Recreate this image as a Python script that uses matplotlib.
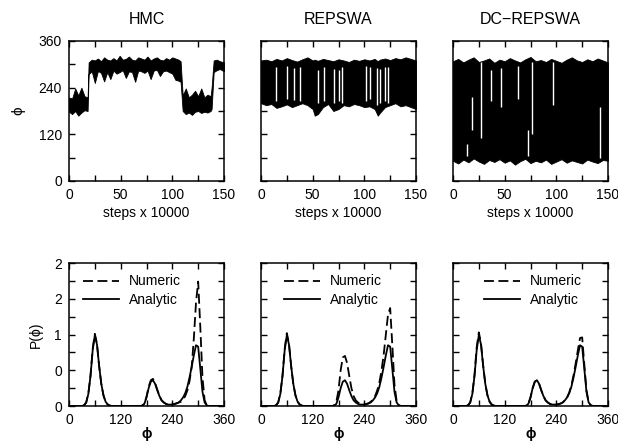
import numpy as np
import matplotlib
matplotlib.use("Agg")
import matplotlib.pyplot as plt
from matplotlib.ticker import MultipleLocator, FixedLocator, FixedFormatter

plt.rcParams['font.family'] = ['Liberation Sans', 'DejaVu Sans']

titles = ['HMC', 'REPSWA', 'DC\u2212REPSWA']

# --- time series, read as lower/upper envelope of the dense trace ---
hmc_x = [0, 3, 6, 9, 12, 15, 18, 19, 22, 25, 28, 31, 34, 37, 40, 43, 46, 49, 52,
         55, 58, 61, 64, 67, 70, 73, 76, 79, 82, 85, 88, 91, 94, 97, 100, 103,
         106, 108, 110, 113, 116, 119, 122, 125, 128, 131, 134, 137, 138, 140,
         143, 146, 150]
hmc_lo = [178, 172, 180, 168, 176, 182, 180, 275, 282, 252, 283, 278, 256, 280,
          262, 284, 276, 280, 285, 265, 282, 280, 255, 284, 282, 278, 284, 262,
          284, 286, 270, 282, 284, 280, 276, 260, 258, 255, 180, 172, 176, 170,
          178, 180, 175, 178, 176, 180, 185, 280, 285, 288, 282]
hmc_hi = [215, 212, 238, 220, 240, 218, 215, 305, 312, 310, 315, 308, 318, 312,
          310, 316, 310, 322, 312, 314, 320, 312, 310, 318, 315, 312, 320, 310,
          315, 318, 312, 310, 316, 312, 318, 315, 312, 308, 220, 238, 215, 222,
          232, 218, 238, 215, 222, 218, 240, 310, 312, 308, 305]

rep_x = [0, 5, 10, 15, 20, 25, 30, 35, 40, 45, 50, 52, 55, 60, 65, 70, 75, 80,
         85, 90, 95, 100, 105, 110, 113, 115, 120, 125, 130, 135, 140, 145, 150]
rep_lo = [200, 195, 198, 188, 192, 197, 190, 195, 200, 195, 185, 168, 172, 190,
          198, 180, 185, 195, 192, 198, 195, 190, 192, 185, 168, 175, 190, 195,
          200, 192, 195, 190, 185]
rep_hi = [310, 312, 308, 314, 310, 316, 311, 307, 313, 318, 310, 312, 309, 314,
          311, 308, 313, 310, 306, 312, 309, 313, 310, 314, 308, 312, 315, 311,
          316, 313, 318, 314, 310]
rep_gap_x = [14.5, 25, 32, 38, 55.5, 60.5, 71, 75, 78, 102, 105.5, 112, 115,
             120, 123]
rep_gap_lo = [205, 210, 208, 205, 200, 205, 200, 205, 200, 205, 210, 195, 200,
              205, 200]
rep_gap_hi = [292, 295, 290, 294, 285, 292, 288, 286, 292, 296, 292, 290, 288,
              292, 294]

dc_x = [0, 5, 10, 15, 20, 25, 30, 35, 40, 45, 50, 55, 60, 65, 70, 75, 80, 85,
        90, 95, 100, 105, 110, 115, 120, 125, 130, 135, 140, 145, 150]
dc_lo = [52, 45, 55, 48, 58, 50, 44, 54, 49, 56, 47, 53, 42, 51, 57, 46, 52, 48,
         55, 44, 50, 56, 47, 53, 49, 45, 55, 50, 46, 54, 52]
dc_hi = [308, 314, 305, 312, 318, 306, 310, 315, 304, 312, 308, 316, 310, 305,
         313, 319, 308, 311, 306, 314, 309, 304, 312, 318, 310, 306, 313, 308,
         315, 310, 305]
dc_gap_x = [13.5, 18.5, 27, 37, 46, 63, 73, 76, 97, 142]
dc_gap_lo = [65, 130, 110, 205, 190, 210, 65, 120, 195, 60]
dc_gap_hi = [95, 215, 305, 285, 290, 295, 130, 305, 305, 190]

# --- distributions P(phi) ---
phi = np.arange(0, 361, 5)
analytic = [0, 0, 0, 0, 0, 0, 0, 0.01, 0.05, 0.17, 0.42, 0.78, 0.99, 0.86,
            0.56, 0.31, 0.15, 0.06, 0.02, 0.005, 0, 0, 0, 0, 0, 0, 0, 0, 0, 0,
            0, 0, 0, 0, 0.005, 0.03, 0.12, 0.25, 0.34, 0.36, 0.31, 0.22, 0.14,
            0.08, 0.05, 0.03, 0.02, 0.02, 0.02, 0.025, 0.035, 0.05, 0.08, 0.12,
            0.18, 0.27, 0.40, 0.55, 0.71, 0.85, 0.83, 0.52, 0.20, 0.05, 0.01,
            0, 0, 0, 0, 0, 0, 0, 0]
num_hmc = [0, 0, 0, 0, 0, 0, 0, 0.01, 0.05, 0.18, 0.43, 0.80, 1.01, 0.87,
           0.56, 0.31, 0.15, 0.06, 0.02, 0.005, 0, 0, 0, 0, 0, 0, 0, 0, 0, 0,
           0, 0, 0, 0, 0.005, 0.03, 0.13, 0.27, 0.36, 0.38, 0.32, 0.23, 0.14,
           0.08, 0.05, 0.03, 0.02, 0.02, 0.025, 0.03, 0.04, 0.05, 0.06, 0.09,
           0.14, 0.22, 0.35, 0.55, 0.95, 1.45, 1.74, 1.10, 0.40, 0.08, 0.01,
           0, 0, 0, 0, 0, 0, 0, 0]
num_rep = [0, 0, 0, 0, 0, 0, 0, 0.01, 0.05, 0.18, 0.43, 0.80, 1.02, 0.87,
           0.56, 0.31, 0.15, 0.06, 0.02, 0.005, 0, 0, 0, 0, 0, 0, 0, 0, 0, 0,
           0, 0, 0, 0, 0.01, 0.06, 0.22, 0.50, 0.68, 0.70, 0.60, 0.42, 0.25,
           0.14, 0.08, 0.05, 0.03, 0.02, 0.02, 0.03, 0.04, 0.06, 0.09, 0.14,
           0.22, 0.33, 0.50, 0.72, 1.00, 1.28, 1.37, 0.85, 0.30, 0.07, 0.01,
           0, 0, 0, 0, 0, 0, 0, 0]
num_dc = [0, 0, 0, 0, 0, 0, 0, 0.01, 0.05, 0.18, 0.44, 0.82, 1.03, 0.88,
          0.57, 0.31, 0.15, 0.06, 0.02, 0.005, 0, 0, 0, 0, 0, 0, 0, 0, 0, 0,
          0, 0, 0, 0, 0.005, 0.03, 0.12, 0.25, 0.34, 0.36, 0.31, 0.22, 0.14,
          0.08, 0.05, 0.03, 0.02, 0.02, 0.02, 0.025, 0.035, 0.05, 0.08, 0.12,
          0.19, 0.29, 0.43, 0.60, 0.78, 0.95, 0.96, 0.58, 0.22, 0.05, 0.01,
          0, 0, 0, 0, 0, 0, 0, 0]
p_ticks = [0, 0.5, 1.0, 1.5, 2.0]
p_labels = ['0', '0', '1', '2', '2']

series = [
    (hmc_x, hmc_lo, hmc_hi, [], [], [], num_hmc),
    (rep_x, rep_lo, rep_hi, rep_gap_x, rep_gap_lo, rep_gap_hi, num_rep),
    (dc_x, dc_lo, dc_hi, dc_gap_x, dc_gap_lo, dc_gap_hi, num_dc),
]
legend_x = [0.092, 0.148, 0.2]

W, H = 618, 444
fig = plt.figure(figsize=(W / 100, H / 100), dpi=100)
lefts = [69, 261, 453]


def style(ax):
    for s in ax.spines.values():
        s.set_linewidth(1.1)
    ax.tick_params(which='both', direction='in', top=True, right=True,
                   length=4, width=1, labelsize=10, pad=5)


for i, (tx, lo, hi, gx, glo, ghi, num) in enumerate(series):
    # top row: trace of phi
    ax = fig.add_axes([lefts[i] / W, 1 - 181 / H, 155 / W, 140 / H])
    ax.fill_between(tx, lo, hi, color='black', lw=0.6)
    if gx:
        ax.vlines(gx, glo, ghi, color='white', lw=1.0)
    ax.set_xlim(0, 150)
    ax.set_ylim(0, 360)
    ax.xaxis.set_major_locator(MultipleLocator(50))
    ax.xaxis.set_minor_locator(MultipleLocator(25))
    ax.yaxis.set_major_locator(MultipleLocator(120))
    ax.yaxis.set_minor_locator(MultipleLocator(60))
    style(ax)
    ax.set_title(titles[i], fontsize=11.5, pad=12)
    ax.set_xlabel('steps x 10000', fontsize=10, labelpad=3)
    if i == 0:
        ax.set_ylabel('\u03d5', fontsize=11)
        ax.yaxis.set_label_coords(-0.28, 0.5)
    else:
        ax.tick_params(labelleft=False)

    # bottom row: distributions
    bx = fig.add_axes([lefts[i] / W, 1 - 406 / H, 155 / W, 143 / H])
    bx.plot(phi, num, color='black', lw=1.3, dashes=(5.5, 2.5), label='Numeric')
    bx.plot(phi, analytic, color='black', lw=1.3, label='Analytic')
    bx.set_xlim(0, 360)
    bx.set_ylim(0, 2.0)
    bx.xaxis.set_major_locator(MultipleLocator(120))
    bx.xaxis.set_minor_locator(MultipleLocator(60))
    bx.yaxis.set_major_locator(FixedLocator(p_ticks))
    bx.yaxis.set_major_formatter(FixedFormatter(p_labels))
    bx.yaxis.set_minor_locator(MultipleLocator(0.25))
    style(bx)
    bx.set_xlabel('\u03d5', fontsize=10, fontweight='bold', labelpad=0)
    if i == 0:
        bx.set_ylabel('P(\u03d5)', fontsize=10)
        bx.yaxis.set_label_coords(-0.17, 0.5)
    else:
        bx.tick_params(labelleft=False)
    bx.legend(loc='upper left', bbox_to_anchor=(legend_x[i], 0.92),
              frameon=False, fontsize=10, handlelength=2.6, handletextpad=0.7,
              labelspacing=0.35, borderpad=0, borderaxespad=0)

fig.savefig('out.png', dpi=100)
